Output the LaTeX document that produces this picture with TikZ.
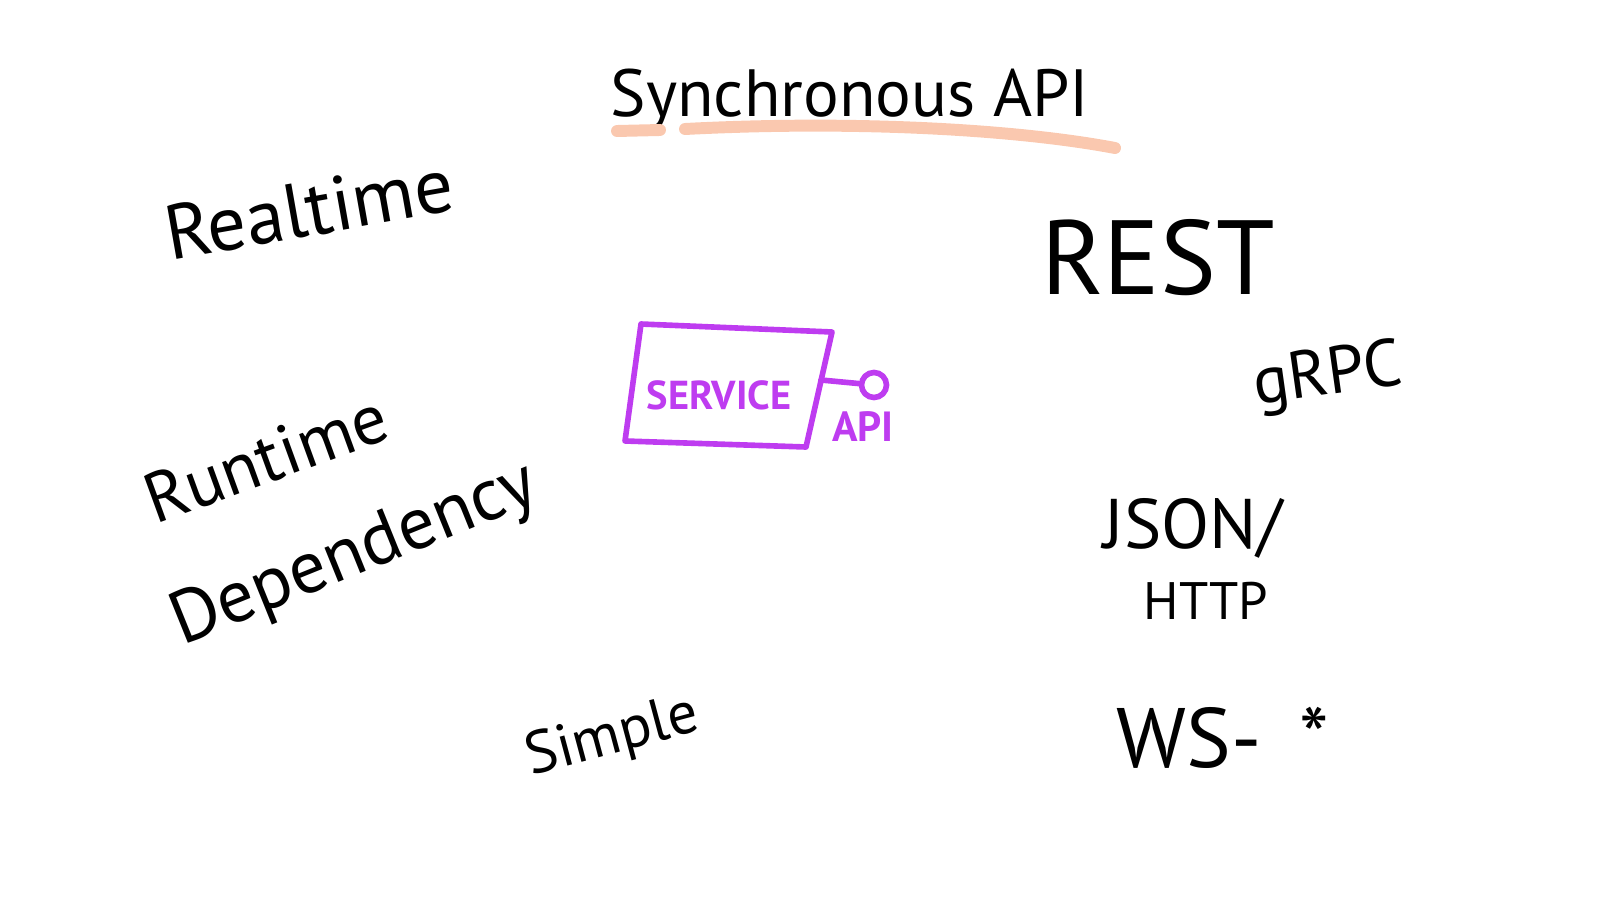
\documentclass[tikz,border=0pt]{standalone}
\usepackage{fontspec}
\setmainfont{PT Sans}
\usetikzlibrary{positioning, calc}
\definecolor{svcpurple}{RGB}{190, 60, 240}
\definecolor{peach}{RGB}{250, 200, 175}

\begin{document}
\begin{tikzpicture}
            \tikzstyle{word} = [inner sep=0pt, black]
            \tikzstyle{svcline} = [svcpurple, line width=1.6pt, line cap=round, line join=round]
            \tikzstyle{port} = [circle, draw=svcpurple, line width=1.6pt, minimum size=0.25cm, inner sep=0pt]
            \useasboundingbox (0,0) rectangle (16,9);

            % title with its underline
            \node[word, font=\fontsize{19}{23}\selectfont] (sync) at (8.5,8.0) {Synchronous API};
            \draw[peach, line width=3.4pt, line cap=round] (6.17,7.69) -- (6.6,7.7);
            \draw[peach, line width=3.4pt, line cap=round] (6.85,7.71) .. controls (8.6,7.8) and (10.2,7.7) .. (11.15,7.52);

            \node[word, font=\fontsize{22}{26}\selectfont, rotate=10] (realtime) at (3.09,6.91) {Realtime};
            \node[word, font=\fontsize{30}{34}\selectfont] (rest) at (11.58,6.42) {REST};
            \node[word, font=\fontsize{19}{23}\selectfont, rotate=8] (grpc) at (13.28,5.22) {gRPC};

            % the service box
            \draw[svcline] (6.41,5.76) -- (8.32,5.68) -- (8.06,4.53) -- (6.25,4.59) -- cycle;
            \node[word, svcpurple, font=\bfseries\fontsize{11.5}{14}\selectfont] (service) at (7.19,5.05) {SERVICE};
            \coordinate (svcport) at (8.21,5.2);
            \node[port] (apiport) at (8.74,5.15) {};
            \draw[svcline] (svcport) -- (apiport);
            \node[word, svcpurple, font=\bfseries\fontsize{12}{14}\selectfont] (api) at (8.63,4.73) {API};

            \node[word, font=\fontsize{20}{24}\selectfont, rotate=20] (runtime) at (2.66,4.42) {Runtime};
            \node[word, font=\fontsize{21}{25}\selectfont, rotate=22] (dependency) at (3.55,3.44) {Dependency};

            \node[word, font=\fontsize{20}{24}\selectfont] (json) at (11.93,3.72) {JSON/};
            \node[word, font=\fontsize{15}{18}\selectfont] (http) at (12.06,2.99) {HTTP};

            \node[word, font=\fontsize{17}{21}\selectfont, rotate=15] (simple) at (6.13,1.62) {Simple};
            \node[word, font=\fontsize{24}{28}\selectfont] (ws) at (12.23,1.62) {WS-\hspace{0.45em}*};
        \end{tikzpicture}
\end{document}
